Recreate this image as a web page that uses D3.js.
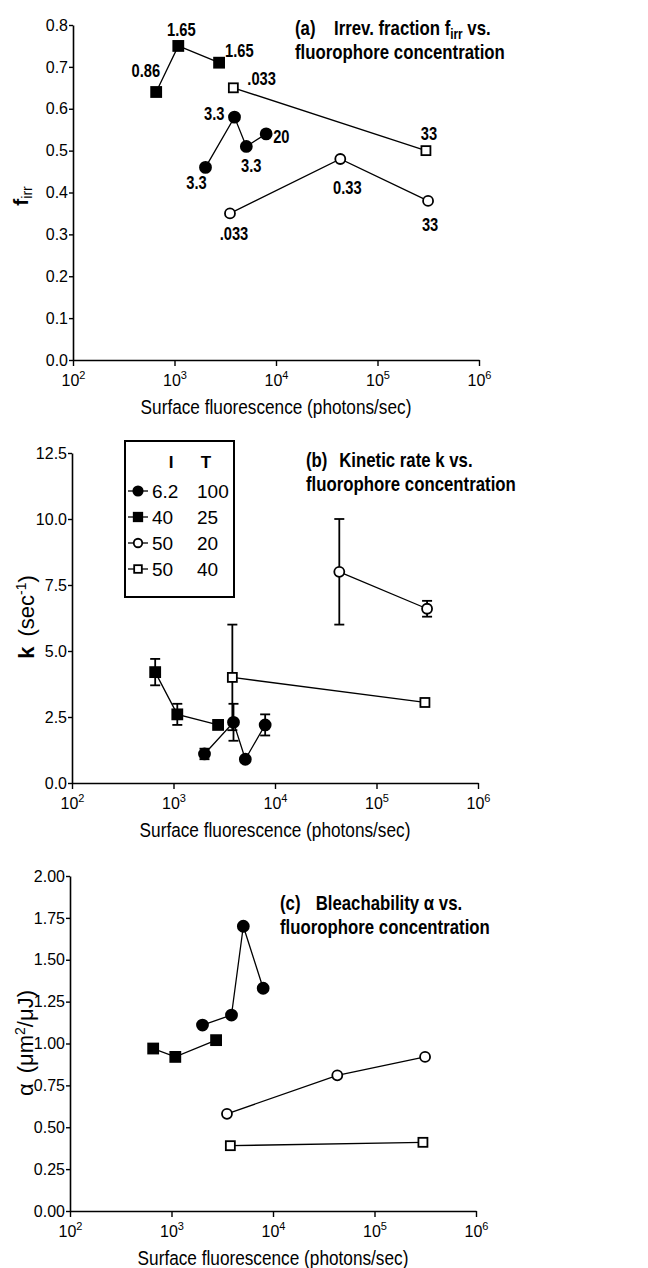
<!DOCTYPE html>
<html>
<head>
<meta charset="utf-8">
<script src="https://cdn.jsdelivr.net/npm/d3@7"></script>
<style>
  body { margin: 0; background: #fff; }
  svg text { font-family: "Liberation Sans", Arial, Helvetica, sans-serif; fill: #000; }
</style>
</head>
<body>
<div id="canvas"></div>
<script>
// x positions (photons/sec) for each series, shared by the three panels
var xDecades = [1e2, 1e3, 1e4, 1e5, 1e6];
var filledSqX = [660, 1090, 2750];
var filledCircX = [2020, 3900, 5100, 8000];
var openCircX = [3520, 43000, 315000];
var openSqX = [3800, 300000];

// (a) irreversible fraction
var firrFilledSq = [0.64, 0.75, 0.71];
var firrFilledCirc = [0.46, 0.58, 0.51, 0.54];
var firrOpenCirc = [0.35, 0.48, 0.38];
var firrOpenSq = [0.65, 0.50];
// concentration labels
var lblFilledSq = ["0.86", "1.65", "1.65"];
var lblFilledCirc = ["3.3", "3.3", "3.3", "20"];
var lblOpenCirc = [".033", "0.33", "33"];
var lblOpenSq = [".033", "33"];

// (b) kinetic rate k and error
var kFilledSq = [4.2, 2.6, 2.2];
var kFilledSqErr = [0.5, 0.4, 0];
var kFilledCirc = [1.1, 2.3, 0.9, 2.2];
var kFilledCircErr = [0.2, 0.7, 0, 0.4];
var kOpenCirc = [null, 8.0, 6.6];
var kOpenCircErr = [null, 2.0, 0.3];
var kOpenSq = [4.0, 3.05];
var kOpenSqErr = [2.0, 0.1];

// (c) bleachability alpha
var aFilledSq = [0.97, 0.92, 1.02];
var aFilledCirc = [1.11, 1.17, 1.70, 1.33];
var aOpenCirc = [0.58, 0.81, 0.92];
var aOpenSq = [0.39, 0.41];

// legend rows
var legendI = ["6.2", "40", "50", "50"];
var legendT = ["100", "25", "20", "40"];

var seriesStyle = [
    {shape: "circle", fill: "#000"},
    {shape: "square", fill: "#000"},
    {shape: "circle", fill: "#fff"},
    {shape: "square", fill: "#fff"}
];

var svg = d3.select("#canvas").append("svg")
    .attr("width", 648).attr("height", 1268);

function marker(g, style, px, py, k) {
    k = k || 1;
    if (style.shape == "circle") {
        g.append("circle").attr("cx", px).attr("cy", py).attr("r", (style.fill == "#000" ? 5.5 : 5) * k)
            .attr("fill", style.fill).attr("stroke", "#000").attr("stroke-width", 1.8);
    } else {
        var s = (style.fill == "#000" ? 10 : 9) * k;
        g.append("rect").attr("x", px - s/2).attr("y", py - s/2).attr("width", s).attr("height", s)
            .attr("fill", style.fill).attr("stroke", "#000").attr("stroke-width", 1.8);
    }
}

function drawPanel(p) {
    var g = svg.append("g");
    var x = d3.scaleLog().domain([1e2, 1e6]).range([p.x0, p.x1]);
    var y = d3.scaleLinear().domain(p.domain).range([p.yBot, p.yTop]);

    // axes
    var xa = g.append("g").attr("transform", "translate(0," + p.yBot + ")")
        .call(d3.axisBottom(x).tickValues(xDecades).tickSize(6).tickSizeOuter(0));
    xa.selectAll(".tick text").text("").attr("font-size", 16).attr("dy", "1.05em")
        .each(function(d) {
            var t = d3.select(this);
            t.append("tspan").text("10");
            t.append("tspan").attr("dy", -7).attr("font-size", 11).text(Math.round(Math.log10(d)));
        });
    var ya = g.append("g").attr("transform", "translate(" + p.x0 + ",0)")
        .call(d3.axisLeft(y).tickValues(p.ticks).tickFormat(d3.format(p.fmt)).tickSize(4).tickSizeOuter(0));
    ya.selectAll(".tick text").attr("font-size", 16).attr("x", -5);
    g.selectAll(".domain").attr("stroke-width", 1.6);
    g.selectAll(".tick line").attr("stroke-width", 1.4);

    g.append("text").attr("class", "narrow").attr("x", (p.x0 + p.x1) / 2).attr("y", p.yBot + 54)
        .attr("text-anchor", "middle").attr("font-size", 20.5)
        .text("Surface fluorescence (photons/sec)");

    // series
    p.series.forEach(function(s) {
        var pts = s.x.map(function(v, i) { return {x: v, y: s.y[i], e: s.err ? s.err[i] : 0}; })
            .filter(function(d) { return d.y != null; });
        var line = d3.line().x(function(d) { return x(d.x); }).y(function(d) { return y(d.y); });
        g.append("path").datum(pts).attr("d", line).attr("fill", "none")
            .attr("stroke", "#000").attr("stroke-width", 1.3);
        pts.forEach(function(d) {
            if (d.e) {
                var cx = x(d.x);
                g.append("line").attr("x1", cx).attr("x2", cx).attr("y1", y(d.y - d.e)).attr("y2", y(d.y + d.e))
                    .attr("stroke", "#000").attr("stroke-width", 1.8);
                [d.y - d.e, d.y + d.e].forEach(function(v) {
                    g.append("line").attr("x1", cx - 5).attr("x2", cx + 5).attr("y1", y(v)).attr("y2", y(v))
                        .attr("stroke", "#000").attr("stroke-width", 1.8);
                });
            }
        });
        pts.forEach(function(d) { marker(g, seriesStyle[s.style], x(d.x), y(d.y)); });
        if (s.labels) {
            pts.forEach(function(d, i) {
                var o = s.offsets[i];
                g.append("text").attr("class", "narrow").attr("x", x(d.x) + o[0]).attr("y", y(d.y) + o[1])
                    .attr("text-anchor", o[2]).attr("font-size", 17.5).attr("font-weight", "bold")
                    .text(s.labels[i]);
            });
        }
    });

    // title
    var t1 = g.append("text").attr("class", "narrow").attr("x", p.titleX).attr("y", p.titleY)
        .attr("font-size", 20).attr("font-weight", "bold");
    p.title1(t1);
    g.append("text").attr("class", "narrow").attr("x", p.titleX).attr("y", p.titleY + 24)
        .attr("font-size", 20).attr("font-weight", "bold").text("fluorophore concentration");

    // y title
    var yt = g.append("text").attr("transform", "translate(" + p.yTitleX + "," + p.yTitleY + ") rotate(-90)")
        .attr("text-anchor", "middle").attr("font-size", p.yTitleSize);
    p.yTitle(yt);
}

drawPanel({
    x0: 73, x1: 479, yTop: 25, yBot: 360, domain: [0, 0.8],
    ticks: d3.range(0, 9).map(function(i) { return i / 10; }), fmt: ".1f",
    series: [
        {x: filledCircX, y: firrFilledCirc, style: 0, labels: lblFilledCirc,
         offsets: [[-9, 22, "middle"], [-10, 3, "end"], [5, 26, "middle"], [7, 9, "start"]]},
        {x: filledSqX, y: firrFilledSq, style: 1, labels: lblFilledSq,
         offsets: [[4, -15, "end"], [3, -10, "middle"], [6, -6, "start"]]},
        {x: openCircX, y: firrOpenCirc, style: 2, labels: lblOpenCirc,
         offsets: [[4, 27, "middle"], [7, 35, "middle"], [2, 30, "middle"]]},
        {x: openSqX, y: firrOpenSq, style: 3, labels: lblOpenSq,
         offsets: [[14, -3, "start"], [3, -11, "middle"]]}
    ],
    titleX: 295, titleY: 35,
    title1: function(t) {
        t.append("tspan").text("(a)");
        t.append("tspan").attr("dx", 22).text("Irrev. fraction f");
        t.append("tspan").attr("dy", 4).attr("font-size", 14).text("irr");
        t.append("tspan").attr("dy", -4).text(" vs.");
    },
    yTitleX: 28, yTitleY: 196, yTitleSize: 21,
    yTitle: function(t) {
        t.append("tspan").attr("font-weight", "bold").text("f");
        t.append("tspan").attr("dy", 4).attr("font-size", 14).text("irr");
    }
});

drawPanel({
    x0: 72, x1: 478, yTop: 453, yBot: 783, domain: [0, 12.5],
    ticks: [0, 2.5, 5, 7.5, 10, 12.5], fmt: ".1f",
    series: [
        {x: filledCircX, y: kFilledCirc, err: kFilledCircErr, style: 0},
        {x: filledSqX, y: kFilledSq, err: kFilledSqErr, style: 1},
        {x: openCircX, y: kOpenCirc, err: kOpenCircErr, style: 2},
        {x: openSqX, y: kOpenSq, err: kOpenSqErr, style: 3}
    ],
    titleX: 306, titleY: 467,
    title1: function(t) {
        t.append("tspan").text("(b)");
        t.append("tspan").attr("dx", 14).text("Kinetic rate k  vs.");
    },
    yTitleX: 34, yTitleY: 617, yTitleSize: 22,
    yTitle: function(t) {
        t.append("tspan").attr("font-weight", "bold").text("k");
        t.append("tspan").attr("dx", 10).text("(sec");
        t.append("tspan").attr("dy", -8).attr("font-size", 14).text("-1");
        t.append("tspan").attr("dy", 8).text(")");
    }
});

drawPanel({
    x0: 70, x1: 476, yTop: 876, yBot: 1211, domain: [0, 2],
    ticks: [0, 0.25, 0.5, 0.75, 1, 1.25, 1.5, 1.75, 2], fmt: ".2f",
    series: [
        {x: filledCircX, y: aFilledCirc, style: 0},
        {x: filledSqX, y: aFilledSq, style: 1},
        {x: openCircX, y: aOpenCirc, style: 2},
        {x: openSqX, y: aOpenSq, style: 3}
    ],
    titleX: 280, titleY: 910,
    title1: function(t) {
        t.append("tspan").text("(c)");
        t.append("tspan").attr("dx", 18).text("Bleachability \u03b1 vs.");
    },
    yTitleX: 33, yTitleY: 1043, yTitleSize: 22,
    yTitle: function(t) {
        t.append("tspan").text("\u03b1");
        t.append("tspan").attr("dx", 10).text("(\u03bcm");
        t.append("tspan").attr("dy", -8).attr("font-size", 14).text("2");
        t.append("tspan").attr("dy", 8).text("/\u03bcJ)");
    }
});

// legend in panel (b)
var lg = svg.append("g").attr("transform", "translate(125,441)");
lg.append("rect").attr("width", 109).attr("height", 156)
    .attr("fill", "#fff").attr("stroke", "#000").attr("stroke-width", 2);
lg.append("text").attr("x", 46).attr("y", 27).attr("font-size", 17).attr("font-weight", "bold")
    .attr("text-anchor", "middle").text("I");
lg.append("text").attr("x", 81).attr("y", 27).attr("font-size", 17).attr("font-weight", "bold")
    .attr("text-anchor", "middle").text("T");
legendI.forEach(function(v, i) {
    var cy = 50 + i * 26;
    lg.append("line").attr("x1", 3).attr("x2", 23).attr("y1", cy).attr("y2", cy)
        .attr("stroke", "#000").attr("stroke-width", 1.3);
    marker(lg, seriesStyle[i], 13, cy, 0.85);
    lg.append("text").attr("x", 27).attr("y", cy + 7).attr("font-size", 19).text(v);
    lg.append("text").attr("x", 72).attr("y", cy + 7).attr("font-size", 19).text(legendT[i]);
});

// condensed look: squeeze the narrow texts around their anchor point
svg.selectAll("text.narrow").each(function() {
    var t = d3.select(this);
    var ax = +t.attr("x") || 0, ay = +t.attr("y") || 0;
    t.attr("transform", "translate(" + ax + "," + ay + ") scale(0.84,1) translate(" + (-ax) + "," + (-ay) + ")");
});
</script>
</body>
</html>
